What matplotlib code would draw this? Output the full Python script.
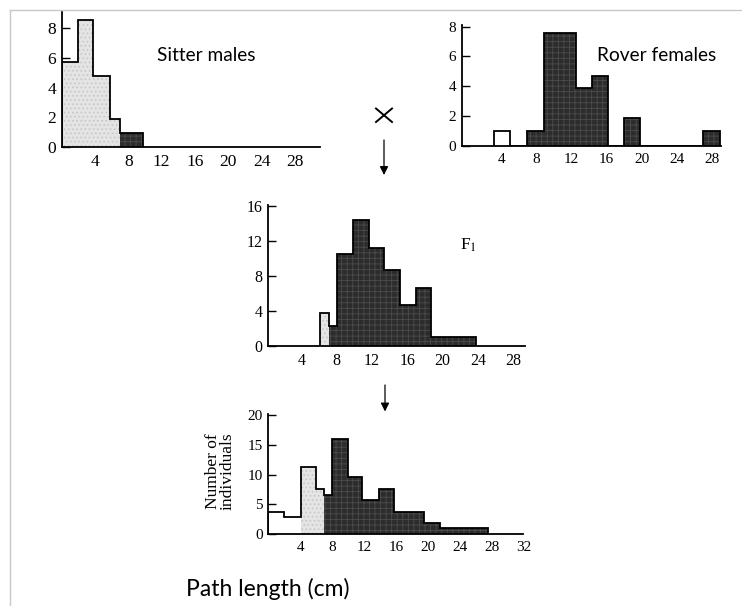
import matplotlib
matplotlib.use('Agg')
import matplotlib.pyplot as plt
from matplotlib.lines import Line2D
import numpy as np

W, H = 742, 606

# ---------------- data ----------------
sitter_edges = [0, 2.0, 3.75, 5.75, 7.0, 9.75]
sitter_counts = [5.75, 8.55, 4.8, 1.9, 0.95]
sitter_shades = ['l', 'l', 'l', 'l', 'd']

rover_edges = [3.15, 5.0, 6.95, 8.8, 10.7, 12.55, 14.35, 16.2, 18.0, 19.8, 27.05, 28.9]
rover_counts = [1.0, 0, 1.0, 7.6, 7.6, 3.9, 4.7, 0, 1.85, 0, 1.0]
rover_shades = ['w', 'w', 'd', 'd', 'd', 'd', 'd', 'd', 'd', 'd', 'd']

f1_edges = [6.1, 7.15, 8.05, 9.85, 11.6, 13.4, 15.15, 16.95, 18.7, 20.4, 22.05, 23.75]
f1_counts = [3.8, 2.2, 10.55, 14.4, 11.2, 8.65, 4.7, 6.65, 1.0, 1.0, 1.0]
f1_shades = ['l', 'd', 'd', 'd', 'd', 'd', 'd', 'd', 'd', 'd', 'd']

f2_edges = [0, 1.96, 4.1, 6.0, 6.95, 7.97, 10.0, 11.73, 13.9, 15.75, 17.65,
            19.55, 21.55, 23.55, 25.55, 27.6]
f2_counts = [3.8, 2.85, 11.35, 7.55, 6.6, 16.0, 9.55, 5.75, 7.55, 3.8, 3.8,
             1.95, 1.1, 1.1, 1.1]
f2_shades = ['w', 'w', 'l', 'l', 'd', 'd', 'd', 'd', 'd', 'd', 'd', 'd', 'd', 'd', 'd']

xticks_a = [4, 8, 12, 16, 20, 24, 28]
xticks_b = [4, 8, 12, 16, 20, 24, 28, 32]
yticks_sitter = [0, 2, 4, 6, 8]
yticks_rover = [0, 2, 4, 6, 8]
yticks_f1 = [0, 4, 8, 12, 16]
yticks_f2 = [0, 5, 10, 15, 20]

FACE = {'w': '#ffffff', 'l': '#e4e4e4', 'd': '#2c2c2c'}
HATCHC = {'w': '#ffffff', 'l': '#c4c4c4', 'd': '#4c4c4c'}
HATCH = {'w': None, 'l': '....', 'd': '+++'}
SERIF = 'Liberation Serif'
SANS = 'Lato'

plt.rcParams['hatch.linewidth'] = 0.6

fig = plt.figure(figsize=(W / 100, H / 100), dpi=100)


def px_rect(left, right, top, bottom):
    return [left / W, 1 - bottom / H, (right - left) / W, (bottom - top) / H]


def panel(rect, edges, counts, shades, xlim, ylim, xticks, yticks, fs):
    ax = fig.add_axes(rect)
    e = np.asarray(edges, dtype=float)
    for x0, wd, h, s in zip(e[:-1], np.diff(e), counts, shades):
        ax.bar(x0, h, width=wd, align='edge', facecolor=FACE[s],
               edgecolor=HATCHC[s], hatch=HATCH[s], linewidth=0, zorder=2)
    ax.stairs(counts, e, baseline=0, color='black', lw=1.3, zorder=3)
    ax.set_xlim(*xlim)
    ax.set_ylim(*ylim)
    for s in ('top', 'right'):
        ax.spines[s].set_visible(False)
    for s in ('left', 'bottom'):
        ax.spines[s].set_linewidth(1.3)
        ax.spines[s].set_zorder(4)
    ax.set_xticks(xticks)
    ax.set_yticks(yticks)
    ax.tick_params(axis='y', direction='in', length=6, width=1.0, pad=4,
                   labelsize=fs)
    ax.tick_params(axis='x', length=0, pad=5, labelsize=fs)
    for lab in ax.get_xticklabels() + ax.get_yticklabels():
        lab.set_fontfamily(SERIF)
    ax.patch.set_alpha(0)
    return ax


# Sitter males
panel(px_rect(61.7, 320, 12, 147), sitter_edges, sitter_counts, sitter_shades,
      (0, 31.0), (0, 9.1), xticks_a, yticks_sitter, 12.5)
# Rover females
panel(px_rect(461.7, 721.3, 25.2, 145.7), rover_edges, rover_counts, rover_shades,
      (-0.57, 29.1), (0, 8.1), xticks_a, yticks_rover, 11)
# F1
panel(px_rect(268.3, 524.7, 205.1, 345.7), f1_edges, f1_counts, f1_shades,
      (0.23, 29.3), (0, 16.1), xticks_a, yticks_f1, 11.5)
# F2
panel(px_rect(268.3, 523.4, 413.8, 534.3), f2_edges, f2_counts, f2_shades,
      (0, 31.3), (0, 20.2), xticks_b, yticks_f2, 11)


def fx(x):
    return x / W


def fy(y):
    return 1 - y / H


# titles
fig.text(fx(206), fy(60.7), 'Sitter males', family=SANS, fontsize=13.8,
         ha='center', va='baseline')
fig.text(fx(656.5), fy(60.7), 'Rover females', family=SANS, fontsize=13.8,
         ha='center', va='baseline')
fig.text(fx(460), fy(250), r'F$_1$', family=SERIF, fontsize=12.5,
         ha='left', va='baseline', math_fontfamily='stix')
fig.text(fx(267.5), fy(596), 'Path length (cm)', family=SANS, fontsize=16.5,
         ha='center', va='baseline')
fig.text(fx(220), fy(471), 'Number of\nindividuals', family=SERIF, fontsize=12.5,
         rotation=90, ha='center', va='center', linespacing=0.9,
         multialignment='center')

# cross symbol
fig.add_artist(Line2D([fx(376), fx(392)], [fy(108.5), fy(122)], color='black', lw=1.4))
fig.add_artist(Line2D([fx(376), fx(392)], [fy(122), fy(108.5)], color='black', lw=1.4))

# arrows
for x0, y0, y1 in [(384, 140, 175), (385, 385, 411.5)]:
    fig.add_artist(matplotlib.patches.FancyArrowPatch(
        (fx(x0), fy(y0)), (fx(x0), fy(y1)), transform=fig.transFigure,
        arrowstyle='-|>,head_length=5,head_width=2.5', color='black', lw=0.9,
        shrinkA=0, shrinkB=0))

# frame lines (top and left)
fig.add_artist(Line2D([fx(10), 1], [fy(10), fy(10)], color='#c8c8c8', lw=1.0))
fig.add_artist(Line2D([fx(10), fx(10)], [fy(10), 0], color='#c8c8c8', lw=1.0))

fig.savefig('out.png', dpi=100)
